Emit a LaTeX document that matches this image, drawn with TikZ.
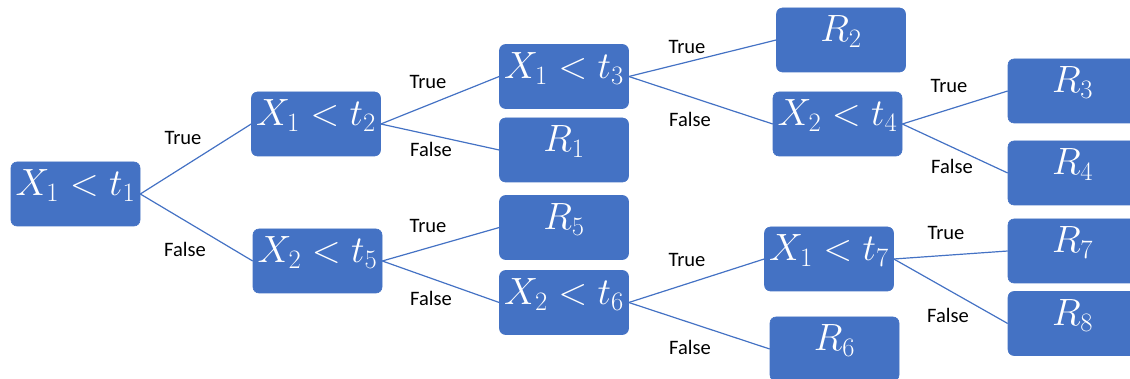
\RequirePackage{fix-cm}
\documentclass[tikz,border=0pt]{standalone}
\usepackage{fontspec}
\newfontfamily\labelfont{Carlito}
\definecolor{boxblue}{HTML}{4472C4}
\begin{document}
\begin{tikzpicture}[x=1pt,y=-1pt,
  box/.style={fill=boxblue, draw=boxblue, line width=0.6pt, rounded corners=6pt,
    minimum width=129pt, inner sep=0pt, text height=34pt, text depth=30pt,
    text=white, font=\fontsize{38}{42}\selectfont},
  link/.style={draw=boxblue, line width=1.2pt},
  lab/.style={font=\labelfont\fontsize{20.5}{24}\selectfont, anchor=base, inner sep=0pt, text=black}]
\useasboundingbox (0,0) rectangle (1130,379);
\clip (0,0) rectangle (1130,379);
% boxes
\node[box] (n1) at (75.5,194) {$X_1<t_1$};
\node[box] (n2) at (316,124) {$X_1<t_2$};
\node[box] (n5) at (317.5,261) {$X_2<t_5$};
\node[box] (n3) at (564,76.5) {$X_1<t_3$};
\node[box] (r1) at (564,150) {$R_1$};
\node[box] (r5) at (564,227.5) {$R_5$};
\node[box] (n6) at (564,302.5) {$X_2<t_6$};
\node[box] (r2) at (841,40) {$R_2$};
\node[box] (n4) at (837.5,124) {$X_2<t_4$};
\node[box] (n7) at (829,259) {$X_1<t_7$};
\node[box] (r6) at (834.5,349) {$R_6$};
\node[box] (r3) at (1072.5,91) {$R_3$};
\node[box] (r4) at (1072.5,173) {$R_4$};
\node[box] (r7) at (1072.5,251) {$R_7$};
\node[box] (r8) at (1072.5,323.5) {$R_8$};
% connectors
\draw[link] (n1.east) -- (n2.west);
\draw[link] (n1.east) -- (n5.west);
\draw[link] (n2.east) -- (n3.west);
\draw[link] (n2.east) -- (r1.west);
\draw[link] (n5.east) -- (r5.west);
\draw[link] (n5.east) -- (n6.west);
\draw[link] (n3.east) -- (r2.west);
\draw[link] (n3.east) -- (n4.west);
\draw[link] (n4.east) -- (r3.west);
\draw[link] (n4.east) -- (r4.west);
\draw[link] (n6.east) -- (n7.west);
\draw[link] (n6.east) -- (r6.west);
\draw[link] (n7.east) -- (r7.west);
\draw[link] (n7.east) -- (r8.west);
% labels
\node[lab] (t1) at (183,145) {True};
\node[lab] (f1) at (185,257) {False};
\node[lab] (t2) at (428,89) {True};
\node[lab] (f2) at (431,157) {False};
\node[lab] (t3) at (687,54) {True};
\node[lab] (f3) at (690,127) {False};
\node[lab] (t5) at (428,233) {True};
\node[lab] (f5) at (431,306) {False};
\node[lab] (t6) at (687,267) {True};
\node[lab] (f6) at (690,355) {False};
\node[lab] (t4) at (949,93) {True};
\node[lab] (f4) at (952,174) {False};
\node[lab] (t7) at (946,240) {True};
\node[lab] (f7) at (948,323) {False};
\end{tikzpicture}
\end{document}
